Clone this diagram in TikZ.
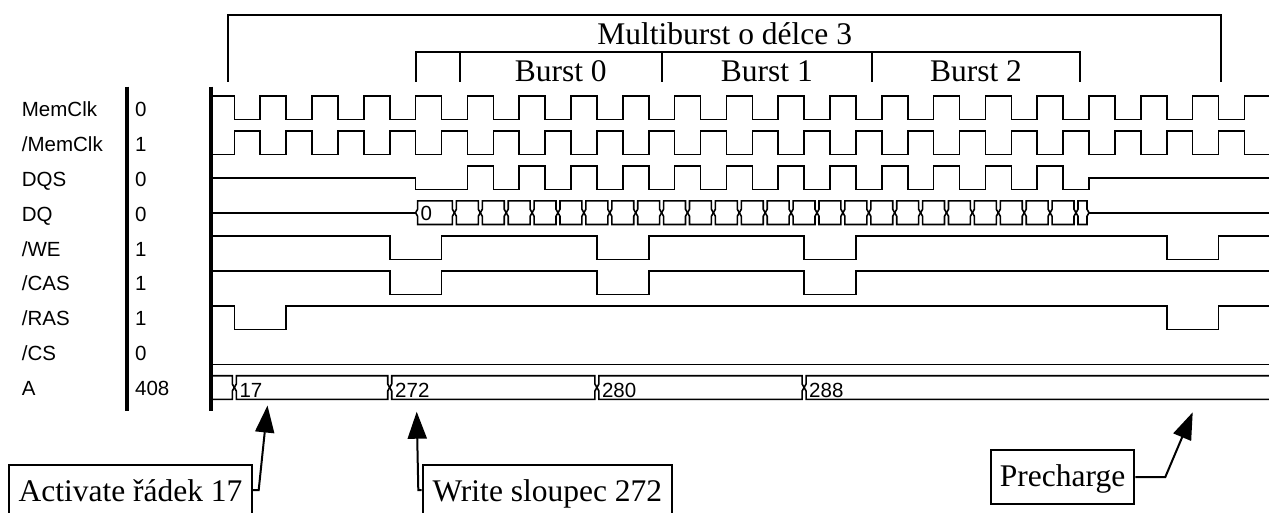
\documentclass[tikz,border=0pt]{standalone}
\usepackage{fontspec}
\setmainfont{Liberation Serif}
\newfontfamily\wavesans{Liberation Sans}
\usetikzlibrary{arrows.meta}
\newcommand{\cellpath}[3]{({#1},{#3}) -- ++(2,-3.5) -- ++(0,-8.3) -- ({#2-2},{#3-11.8}) -- ++(0,8.3) -- ({#2},{#3}) -- ++(-2,3.5) -- ++(0,8.3) -- ({#1+2},{#3+11.8}) -- ++(0,-8.3) -- cycle}
\begin{document}
\begin{tikzpicture}[x=1pt, y=-1pt,
  wave/.style={line width=1.6pt, line join=miter},
  lab/.style={font=\wavesans\fontsize{20.5}{24}\selectfont, inner sep=0pt},
  serif/.style={font=\fontsize{31.5}{36}\selectfont, inner sep=0pt},
  box/.style={draw, line width=2pt, inner sep=0pt, font=\fontsize{31.5}{36}\selectfont},
  brk/.style={line width=2pt},
  ann/.style={line width=2pt, line join=miter, -{Triangle[length=27pt,width=19pt]}},
  bar/.style={line width=4pt}]
\useasboundingbox (0,0) rectangle (1269,513);
\clip (0,0) rectangle (1269,513);

% brackets and titles
\draw[brk] (228.3,81.7) -- (228.3,15) -- (1221,15) -- (1221,81.7);
\draw[brk] (416,81.7) -- (416,52.3) -- (1080,52.3) -- (1080,81.7);
\draw[brk] (460,52.3) -- (460,81.7);
\draw[brk] (661.7,52.3) -- (661.7,81.7);
\draw[brk] (872,52.3) -- (872,81.7);
\node[serif, anchor=base] (multi) at (724.7,45) {Multiburst o délce 3};
\node[serif, anchor=base] (burst0) at (560.8,81.7) {Burst 0};
\node[serif, anchor=base] (burst1) at (766.8,81.7) {Burst 1};
\node[serif, anchor=base] (burst2) at (976,81.7) {Burst 2};

% signal names and values
\node[lab, anchor=base west] (n0) at (21.7,116.2) {MemClk};
\node[lab, anchor=base west] (n1) at (21.7,151.15) {/MemClk};
\node[lab, anchor=base west] (n2) at (21.7,186.1) {DQS};
\node[lab, anchor=base west] (n3) at (21.7,221.05) {DQ};
\node[lab, anchor=base west] (n4) at (21.7,256) {/WE};
\node[lab, anchor=base west] (n5) at (21.7,290.95) {/CAS};
\node[lab, anchor=base west] (n6) at (21.7,325.9) {/RAS};
\node[lab, anchor=base west] (n7) at (21.7,360.85) {/CS};
\node[lab, anchor=base west] (n8) at (21.7,395.8) {A};
\node[lab, anchor=base west] (v0) at (135,116.2) {0};
\node[lab, anchor=base west] (v1) at (135,151.15) {1};
\node[lab, anchor=base west] (v2) at (135,186.1) {0};
\node[lab, anchor=base west] (v3) at (135,221.05) {0};
\node[lab, anchor=base west] (v4) at (135,256) {1};
\node[lab, anchor=base west] (v5) at (135,290.95) {1};
\node[lab, anchor=base west] (v6) at (135,325.9) {1};
\node[lab, anchor=base west] (v7) at (135,360.85) {0};
\node[lab, anchor=base west] (v8) at (135,395.8) {408};

% separator bars
\draw[bar] (126.7,86.7) -- (126.7,411);
\draw[bar] (211,86.7) -- (211,411);

% MemClk
\draw[wave] (211,96.1) \foreach \k in {0,...,19} { -- ({234.3+51.8*\k},96.1) -- ({234.3+51.8*\k},119.7) -- ({260.2+51.8*\k},119.7) -- ({260.2+51.8*\k},96.1) } -- (1269,96.1);
% /MemClk
\draw[wave] (211,154.65) \foreach \k in {0,...,19} { -- ({234.3+51.8*\k},154.65) -- ({234.3+51.8*\k},131.05) -- ({260.2+51.8*\k},131.05) -- ({260.2+51.8*\k},154.65) } -- (1269,154.65);
% DQS
\draw[wave] (211,177.8) -- (415.6,177.8) -- (415.6,189.6) \foreach \k in {0,...,11} { -- ({467.4+51.8*\k},189.6) -- ({467.4+51.8*\k},166) -- ({493.3+51.8*\k},166) -- ({493.3+51.8*\k},189.6) } -- (1089,189.6) -- (1089,177.8) -- (1269,177.8);
% DQ
\draw[wave] (211,212.75) -- (415.6,212.75);
\draw[wave] \cellpath{415.6}{454.4}{212.75};
\foreach \k in {0,...,23} { \draw[wave] \cellpath{454.4+25.9*\k}{480.3+25.9*\k}{212.75}; }
\draw[wave] \cellpath{1076}{1089}{212.75};
\draw[wave] (1089,212.75) -- (1269,212.75);
\node[lab, anchor=base west] (dq0) at (420.5,221) {0};
% /WE
\draw[wave] (211,235.9) -- (389.7,235.9) -- (389.7,259.5) -- (441.5,259.5) -- (441.5,235.9) -- (596.9,235.9) -- (596.9,259.5) -- (648.7,259.5) -- (648.7,235.9) -- (804.1,235.9) -- (804.1,259.5) -- (855.9,259.5) -- (855.9,235.9) -- (1166.7,235.9) -- (1166.7,259.5) -- (1218.5,259.5) -- (1218.5,235.9) -- (1269,235.9);
% /CAS
\draw[wave] (211,270.85) -- (389.7,270.85) -- (389.7,294.45) -- (441.5,294.45) -- (441.5,270.85) -- (596.9,270.85) -- (596.9,294.45) -- (648.7,294.45) -- (648.7,270.85) -- (804.1,270.85) -- (804.1,294.45) -- (855.9,294.45) -- (855.9,270.85) -- (1269,270.85);
% /RAS
\draw[wave] (211,305.8) -- (234.3,305.8) -- (234.3,329.4) -- (286.1,329.4) -- (286.1,305.8) -- (1166.7,305.8) -- (1166.7,329.4) -- (1218.5,329.4) -- (1218.5,305.8) -- (1269,305.8);
% /CS
\draw[wave] (211,364.35) -- (1269,364.35);
% A bus
\draw[wave] (211,375.7) -- (232.3,375.7) -- (232.3,384) -- (234.3,387.5) -- (232.3,391) -- (232.3,399.3) -- (211,399.3);
\draw[wave] \cellpath{234.3}{389.7}{387.5};
\draw[wave] \cellpath{389.7}{596.9}{387.5};
\draw[wave] \cellpath{596.9}{804.1}{387.5};
\draw[wave] (1269,375.7) -- (806.1,375.7) -- (806.1,384) -- (804.1,387.5) -- (806.1,391) -- (806.1,399.3) -- (1269,399.3);
\node[lab, anchor=base west] (a17) at (239.3,397) {17};
\node[lab, anchor=base west] (a272) at (395,397) {272};
\node[lab, anchor=base west] (a280) at (601.8,397) {280};
\node[lab, anchor=base west] (a288) at (809,397) {288};

% annotations
\node[box, anchor=north west, minimum width=242.4pt, text height=36pt, text depth=20pt] (act) at (8.3,464) {Activate řádek 17};
\node[box, anchor=north west, minimum width=249.3pt, text height=35.7pt, text depth=20pt] (wr) at (421.7,464.3) {Write sloupec 272};
\node[box, anchor=north west, minimum width=143.3pt, text height=35.7pt, text depth=17.7pt] (pre) at (990,449.3) {Precharge};
\coordinate (tipA) at (267.5,405.5);
\coordinate (tipW) at (416.7,411.7);
\coordinate (tipP) at (1192.7,412.3);
\draw[ann] (act.north east) ++(0,26) -- ++(6,0) -- (tipA);
\draw[ann] (wr.north west) ++(0,25.7) -- ++(-3.4,0) -- (tipW);
\draw[ann] (pre.east) -- ++(30,0) -- (tipP);
\end{tikzpicture}
\end{document}
